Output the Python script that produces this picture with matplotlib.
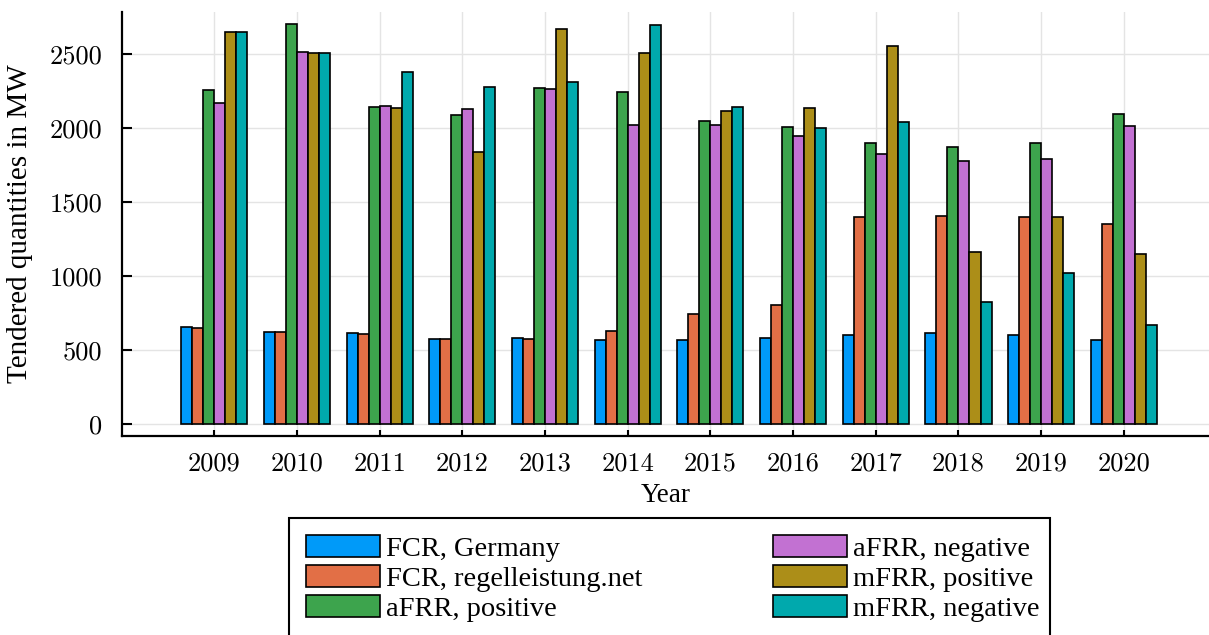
import numpy as np
import matplotlib
matplotlib.use("Agg")
import matplotlib.pyplot as plt
from matplotlib.patches import Rectangle

years = [2009, 2010, 2011, 2012, 2013, 2014, 2015, 2016, 2017, 2018, 2019, 2020]

fcr_germany = [655, 622, 619, 579, 586, 572, 572, 581, 604, 619, 606, 572]
fcr_regelleistung = [653, 622, 613, 574, 574, 631, 745, 804, 1399, 1405, 1401, 1354]
afrr_positive = [2257, 2705, 2146, 2092, 2270, 2243, 2047, 2009, 1901, 1874, 1901, 2097]
afrr_negative = [2171, 2518, 2149, 2131, 2264, 2020, 2020, 1946, 1829, 1777, 1795, 2018]
mfrr_positive = [2651, 2509, 2140, 1840, 2671, 2511, 2117, 2140, 2556, 1164, 1401, 1149]
mfrr_negative = [2651, 2509, 2378, 2282, 2315, 2700, 2146, 2000, 2043, 829, 1025, 671]

series_labels = ["FCR, Germany", "FCR, regelleistung.net", "aFRR, positive",
                 "aFRR, negative", "mFRR, positive", "mFRR, negative"]
series_values = [fcr_germany, fcr_regelleistung, afrr_positive,
                 afrr_negative, mfrr_positive, mfrr_negative]
colors = ["#009AF9", "#E26F46", "#3DA44D", "#C271D2", "#AC8E18", "#00A9AD"]

y_ticks = [0, 500, 1000, 1500, 2000, 2500]

W, H = 1209, 635
fig = plt.figure(figsize=(W / 100, H / 100), dpi=100)
ax = fig.add_axes([122 / W, 199 / H, (W - 122) / W, (436 - 12) / H])

x = np.array(years, dtype=float)
n = len(series_values)
group_width = 0.8
bw = group_width / n
bars = []
for i, (vals, col, lab) in enumerate(zip(series_values, colors, series_labels)):
    offs = (i - (n - 1) / 2) * bw
    b = ax.bar(x + offs, vals, width=bw, color=col, edgecolor="black",
               linewidth=1.2, label=lab, zorder=3)
    bars.append(b)

ax.set_xlim(years[0] - 1.116, years[-1] + 1.03)
ax.set_ylim(-79, 2786)

ax.set_xticks(years, labels=[str(y) for y in years])
ax.set_yticks(y_ticks, labels=[str(v) for v in y_ticks])
for lbl in ax.get_xticklabels() + ax.get_yticklabels():
    lbl.set_fontfamily("cmr10")
    lbl.set_fontsize(19)

ax.tick_params(axis="y", direction="in", length=7, width=1.5, pad=14)
ax.tick_params(axis="x", direction="in", length=4, width=1.5, pad=11)

ax.grid(True, color="#e4e4e4", linewidth=1.0, zorder=0)
ax.set_axisbelow(True)

for side in ("top", "right"):
    ax.spines[side].set_visible(False)
for side in ("left", "bottom"):
    ax.spines[side].set_linewidth(1.6)

label_font = dict(family="Liberation Serif")
ax.set_ylabel("Tendered quantities in MW", fontdict=dict(label_font, size=21),
              labelpad=12)
ax.set_xlabel("Year", fontdict=dict(label_font, size=19.5), labelpad=6)

leg = fig.legend(handles=bars, labels=series_labels, ncol=2,
                 loc="upper left", bbox_to_anchor=(289 / W, 1 - 518 / H),
                 prop=dict(family="Liberation Serif", size=20.5),
                 frameon=False,
                 handlelength=2.6, handleheight=0.8, handletextpad=0.2,
                 labelspacing=0.12, columnspacing=4.6, borderpad=0.6,
                 borderaxespad=0.0)

# legend frame running past the bottom edge of the figure
fig.add_artist(Rectangle((289 / W, -20 / H), (1050 - 289) / W, (H - 518 + 20) / H,
                         transform=fig.transFigure, facecolor="none",
                         edgecolor="black", linewidth=1.5, zorder=5))

fig.savefig("out.png", dpi=100)
